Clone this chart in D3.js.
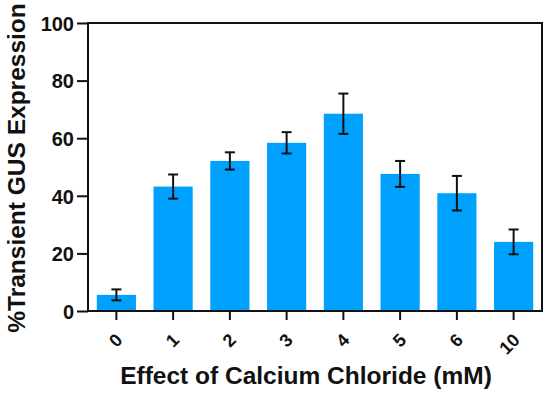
<!DOCTYPE html>
<html>
<head>
<meta charset="utf-8">
<script src="https://cdn.jsdelivr.net/npm/d3@7"></script>
<style>
  body { margin: 0; background: #fff; }
  svg text { font-family: "Liberation Sans", Arial, sans-serif; font-weight: bold; fill: #111; }
</style>
</head>
<body>
<script>
// CaCl2 concentrations (mM) and transient GUS expression (%)
var categories = ["0", "1", "2", "3", "4", "5", "6", "10"];
var values = [5.6, 43.2, 52.1, 58.4, 68.5, 47.6, 40.9, 24.0];
var errors = [1.9, 4.2, 3.0, 3.7, 7.0, 4.5, 6.0, 4.3];
var yTicks = [0, 20, 40, 60, 80, 100];

var width = 550, height = 397;
var margin = { top: 23, right: 8, bottom: 86, left: 88 };
var plotW = width - margin.left - margin.right,
    plotH = height - margin.top - margin.bottom;

var data = categories.map(function (c, i) {
  return { cat: c, v: values[i], e: errors[i] };
});

var xScale = d3.scaleBand()
  .domain(categories)
  .range([0, plotW])
  .paddingInner(0.31)
  .paddingOuter(0.155);

var yScale = d3.scaleLinear()
  .domain([0, 100])
  .range([plotH, 0]);

var svg = d3.select("body").append("svg")
  .attr("width", width)
  .attr("height", height);

var g = svg.append("g")
  .attr("transform", "translate(" + margin.left + "," + margin.top + ")");

// bars
g.selectAll(".bar")
  .data(data)
  .enter().append("rect")
  .attr("class", "bar")
  .attr("x", function (d) { return xScale(d.cat); })
  .attr("y", function (d) { return yScale(d.v); })
  .attr("width", xScale.bandwidth())
  .attr("height", function (d) { return plotH - yScale(d.v); })
  .style("fill", "#00a1fe");

// error bars
var capW = 5;
var eb = g.selectAll(".err")
  .data(data)
  .enter().append("g")
  .attr("class", "err")
  .style("stroke", "#111")
  .style("stroke-width", 2);

eb.append("line")
  .attr("x1", function (d) { return xScale(d.cat) + xScale.bandwidth() / 2; })
  .attr("x2", function (d) { return xScale(d.cat) + xScale.bandwidth() / 2; })
  .attr("y1", function (d) { return yScale(d.v + d.e); })
  .attr("y2", function (d) { return yScale(d.v - d.e); });

eb.selectAll(".cap")
  .data(function (d) { return [d.v + d.e, d.v - d.e].map(function (y) { return { cat: d.cat, y: y }; }); })
  .enter().append("line")
  .attr("class", "cap")
  .attr("x1", function (d) { return xScale(d.cat) + xScale.bandwidth() / 2 - capW; })
  .attr("x2", function (d) { return xScale(d.cat) + xScale.bandwidth() / 2 + capW; })
  .attr("y1", function (d) { return yScale(d.y); })
  .attr("y2", function (d) { return yScale(d.y); });

// frame
g.append("rect")
  .attr("x", 0)
  .attr("y", 0)
  .attr("width", plotW)
  .attr("height", plotH)
  .style("fill", "none")
  .style("stroke", "#111")
  .style("stroke-width", 2);

// y axis
var yAxis = g.append("g")
  .attr("class", "y axis")
  .call(d3.axisLeft(yScale).tickValues(yTicks).tickSize(11).tickPadding(3));
yAxis.select(".domain").remove();
yAxis.selectAll(".tick line").style("stroke", "#111").style("stroke-width", 2);
yAxis.selectAll(".tick text")
  .style("font-size", "20px")
  .attr("dy", "0.36em");

// x axis
var xAxis = g.append("g")
  .attr("class", "x axis")
  .attr("transform", "translate(0," + plotH + ")")
  .call(d3.axisBottom(xScale).tickSize(9));
xAxis.select(".domain").remove();
xAxis.selectAll(".tick line").style("stroke", "#111").style("stroke-width", 2);
xAxis.selectAll(".tick text")
  .style("font-size", "18px")
  .attr("text-anchor", "end")
  .attr("dominant-baseline", "central")
  .attr("y", null)
  .attr("dy", null)
  .attr("transform", "translate(3,26) rotate(-45)");

// axis titles
svg.append("text")
  .attr("x", 306)
  .attr("y", 384)
  .attr("text-anchor", "middle")
  .style("font-size", "24.5px")
  .text("Effect of Calcium Chloride (mM)");

svg.append("text")
  .attr("transform", "translate(25,168) rotate(-90)")
  .attr("text-anchor", "middle")
  .style("font-size", "24.5px")
  .text("%Transient GUS Expression");
</script>
</body>
</html>
